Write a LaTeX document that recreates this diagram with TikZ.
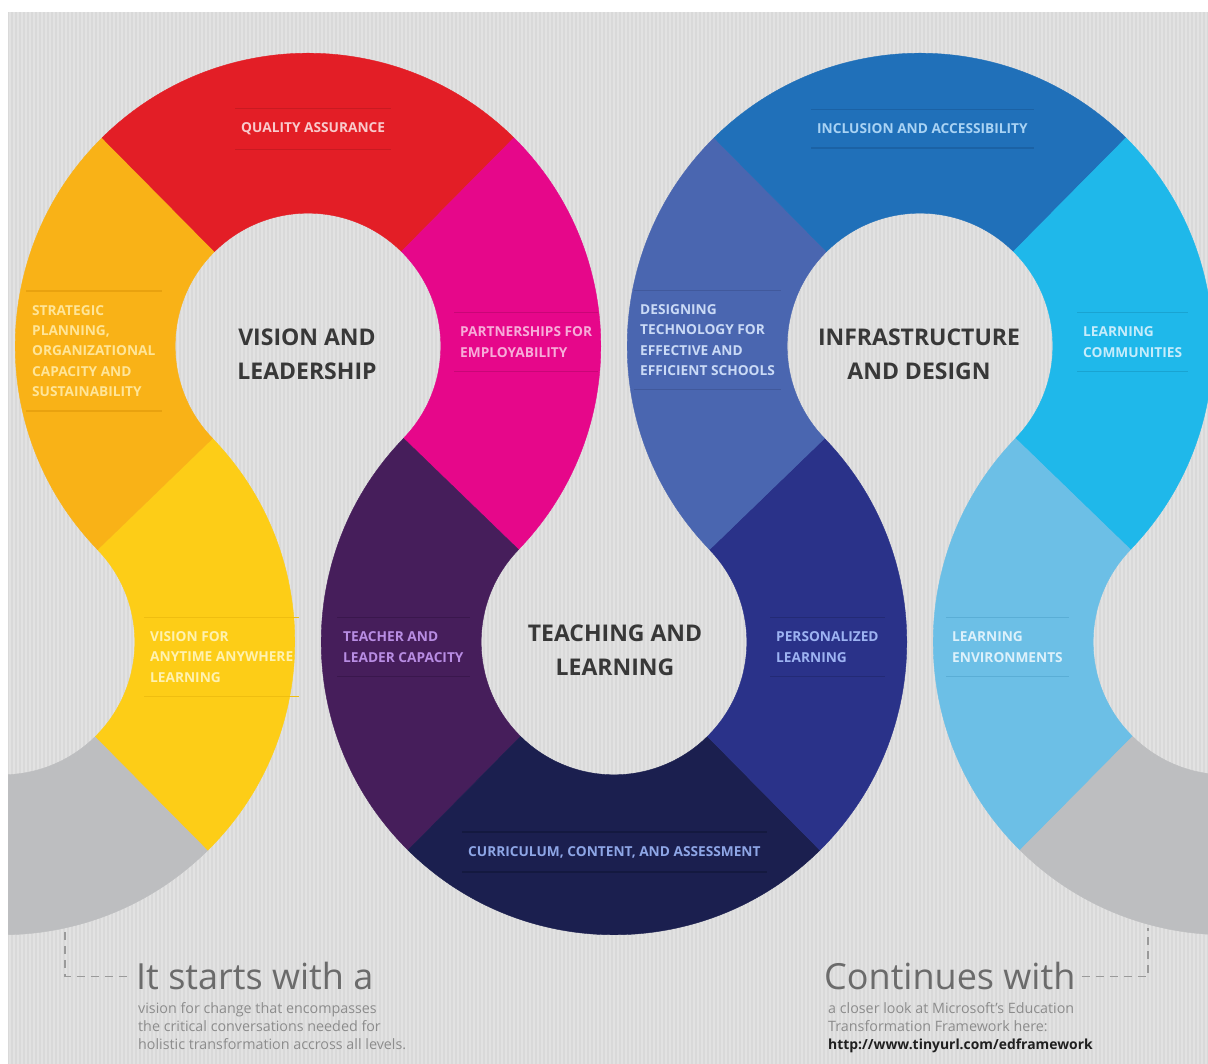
\documentclass[tikz,border=0pt]{standalone}
\usepackage{fontspec}
\setmainfont{Open Sans}
\usetikzlibrary{calc,positioning}

\definecolor{bggray}{HTML}{D9D9D9}
\definecolor{segray}{HTML}{BDBEC0}
\definecolor{orng}{HTML}{F9B217}
\definecolor{redd}{HTML}{E31E26}
\definecolor{pnk}{HTML}{E6078A}
\definecolor{yellw}{HTML}{FDCD17}
\definecolor{purp}{HTML}{461E5B}
\definecolor{navy}{HTML}{1B1F4F}
\definecolor{indig}{HTML}{2A3289}
\definecolor{slate}{HTML}{4A66B0}
\definecolor{blu}{HTML}{2070B9}
\definecolor{cyn}{HTML}{1FB8EA}
\definecolor{lblu}{HTML}{6CBFE6}
\definecolor{txtora}{HTML}{FFE598}
\definecolor{txtred}{HTML}{F9CACC}
\definecolor{txtpnk}{HTML}{F7ACD9}
\definecolor{txtyel}{HTML}{FFF2B0}
\definecolor{txtpur}{HTML}{B88DE3}
\definecolor{txtnav}{HTML}{8EA6E6}
\definecolor{txtind}{HTML}{9DB3F2}
\definecolor{txtsla}{HTML}{CADAF6}
\definecolor{txtblu}{HTML}{A9D3F4}
\definecolor{txtcyn}{HTML}{C6ECFB}
\definecolor{txtlbl}{HTML}{DDF1FB}
\definecolor{lnora}{HTML}{E9A20F}
\definecolor{lnred}{HTML}{C91A21}
\definecolor{lnpnk}{HTML}{C90677}
\definecolor{lnyel}{HTML}{EFBE10}
\definecolor{lnpur}{HTML}{3A174D}
\definecolor{lnnav}{HTML}{141940}
\definecolor{lnind}{HTML}{232A75}
\definecolor{lnsla}{HTML}{41599C}
\definecolor{lnblu}{HTML}{1B62A5}
\definecolor{lncyn}{HTML}{19A4D2}
\definecolor{lnlbl}{HTML}{5AAED6}
\definecolor{titlegray}{HTML}{383838}
\definecolor{headgray}{HTML}{6B6B6B}
\definecolor{bodygray}{HTML}{8C8C8C}
\definecolor{urlblack}{HTML}{1F1F1F}
\definecolor{dashgray}{HTML}{9A9A9A}

\tikzset{
  seglbl/.style={font=\bfseries\fontsize{13.7}{20.3}\selectfont, align=left, inner xsep=6pt, inner ysep=0pt, anchor=west},
  ringtitle/.style={font=\bfseries\fontsize{23}{34}\selectfont, text=titlegray, align=center, inner sep=0pt},
  dashconn/.style={draw=dashgray, line width=1.4pt, dash pattern=on 8pt off 6pt},
  stripe/.style={white, opacity=0.25, line width=1.2pt}
}

\newcommand{\bandseg}[4]{\fill[#4, draw=#4, line width=0.4pt] ([shift={(#2:\Rout)}]#1) arc[start angle=#2, end angle=#3, radius=\Rout] -- ([shift={(#3:\Rin)}]#1) arc[start angle=#3, end angle=#2, radius=\Rin] -- cycle;}
\newcommand{\seglabel}[6]{\node[seglbl, text=#4] (#1) at (#2,#3) {#6};
  \draw[#5, line width=1.5pt] ([yshift=14pt]#1.north west) -- ([yshift=14pt]#1.north east)
    ([yshift=-14pt]#1.south west) -- ([yshift=-14pt]#1.south east);}

\begin{document}
\begin{tikzpicture}[x=1pt,y=1pt]
\useasboundingbox (0,0) rectangle (1208,1064);
\fill[white] (0,0) rectangle (1208,1064);
\fill[bggray] (8,0) rectangle (1208,1052);
\foreach \i in {10,14,...,1206} \draw[stripe] (\i,0) -- (\i,1052);

\coordinate (c0) at (2,422);
\coordinate (c1) at (308,718);
\coordinate (c2) at (614,422);
\coordinate (c3) at (920,718);
\coordinate (c4) at (1226,422);
\pgfmathsetmacro\ang{atan2(296,306)}
\pgfmathsetmacro\Rmid{veclen(306,296)/2}
\pgfmathsetmacro\Rout{\Rmid+80}
\pgfmathsetmacro\Rin{\Rmid-80}
\pgfmathsetmacro\sw{(180+2*\ang)/3}
\pgfmathsetmacro\ta{180+\ang}
\pgfmathsetmacro\tb{\ta-\sw}
\pgfmathsetmacro\tc{\tb-\sw}
\pgfmathsetmacro\td{-\ang}
\pgfmathsetmacro\ba{180-\ang}
\pgfmathsetmacro\bb{\ba+\sw}
\pgfmathsetmacro\bc{\bb+\sw}
\pgfmathsetmacro\bd{360+\ang}

\begin{scope}
\clip (8,0) rectangle (1208,1052);
\bandseg{c0}{\bb}{\bc}{segray}
\bandseg{c0}{\bc}{\bd}{yellw}
\bandseg{c1}{\ta}{\tb}{orng}
\bandseg{c1}{\tb}{\tc}{redd}
\bandseg{c1}{\tc}{\td}{pnk}
\bandseg{c2}{\ba}{\bb}{purp}
\bandseg{c2}{\bb}{\bc}{navy}
\bandseg{c2}{\bc}{\bd}{indig}
\bandseg{c3}{\ta}{\tb}{slate}
\bandseg{c3}{\tb}{\tc}{blu}
\bandseg{c3}{\tc}{\td}{cyn}
\bandseg{c4}{\ba}{\bb}{lblu}
\bandseg{c4}{\bb}{\bc}{segray}
\end{scope}

\node[ringtitle] (vision) at (307,710) {VISION AND\\LEADERSHIP};
\node[ringtitle] (teaching) at (615,414) {TEACHING AND\\LEARNING};
\node[ringtitle] (infra) at (919,710) {INFRASTRUCTURE\\AND DESIGN};

\seglabel{quality}{235}{935}{txtred}{lnred}{QUALITY ASSURANCE}
\seglabel{strategic}{26}{713}{txtora}{lnora}{STRATEGIC\\PLANNING,\\ORGANIZATIONAL\\CAPACITY AND\\SUSTAINABILITY}
\seglabel{partner}{454}{722}{txtpnk}{lnpnk}{PARTNERSHIPS FOR\\EMPLOYABILITY}
\seglabel{anytime}{144}{407}{txtyel}{lnyel}{VISION FOR\\ANYTIME ANYWHERE\\LEARNING}
\seglabel{teacher}{337}{417}{txtpur}{lnpur}{TEACHER AND\\LEADER CAPACITY}
\seglabel{curric}{462}{212}{txtnav}{lnnav}{CURRICULUM, CONTENT, AND ASSESSMENT}
\seglabel{personal}{770}{417}{txtind}{lnind}{PERSONALIZED\\LEARNING}
\seglabel{designing}{634}{724}{txtsla}{lnsla}{DESIGNING\\TECHNOLOGY FOR\\EFFECTIVE AND\\EFFICIENT SCHOOLS}
\seglabel{inclusion}{811}{935}{txtblu}{lnblu}{INCLUSION AND ACCESSIBILITY}
\seglabel{communities}{1077}{722}{txtcyn}{lncyn}{LEARNING\\COMMUNITIES}
\seglabel{environs}{946}{417}{txtlbl}{lnlbl}{LEARNING\\ENVIRONMENTS}

\node[anchor=base west, inner sep=0pt, text=headgray, font=\fontsize{36}{40}\selectfont] (starthead) at (136,74) {It starts with a};
\node[anchor=north west, inner sep=0pt, align=left, text=bodygray, font=\fontsize{14.3}{18}\selectfont] (startbody) at (138,62) {vision for change that encompasses\\the critical conversations needed for\\holistic transformation accross all levels.};
\node[anchor=base west, inner sep=0pt, text=headgray, font=\fontsize{36}{40}\selectfont] (conthead) at (824,74) {Continues with};
\node[anchor=north west, inner sep=0pt, align=left, text=bodygray, font=\fontsize{14.3}{18}\selectfont] (contbody) at (828,62) {a closer look at Microsoft's Education\\Transformation Framework here:\\\textcolor{urlblack}{\bfseries\fontsize{13.9}{18}\selectfont http://www.tinyurl.com/edframework}};

\coordinate (gleft) at (65,132);
\coordinate (gright) at (1148,136);
\draw[dashconn] (gleft) |- ([xshift=-4pt]starthead.west);
\draw[dashconn] ([xshift=6pt]conthead.east) -| (gright);
\end{tikzpicture}
\end{document}
